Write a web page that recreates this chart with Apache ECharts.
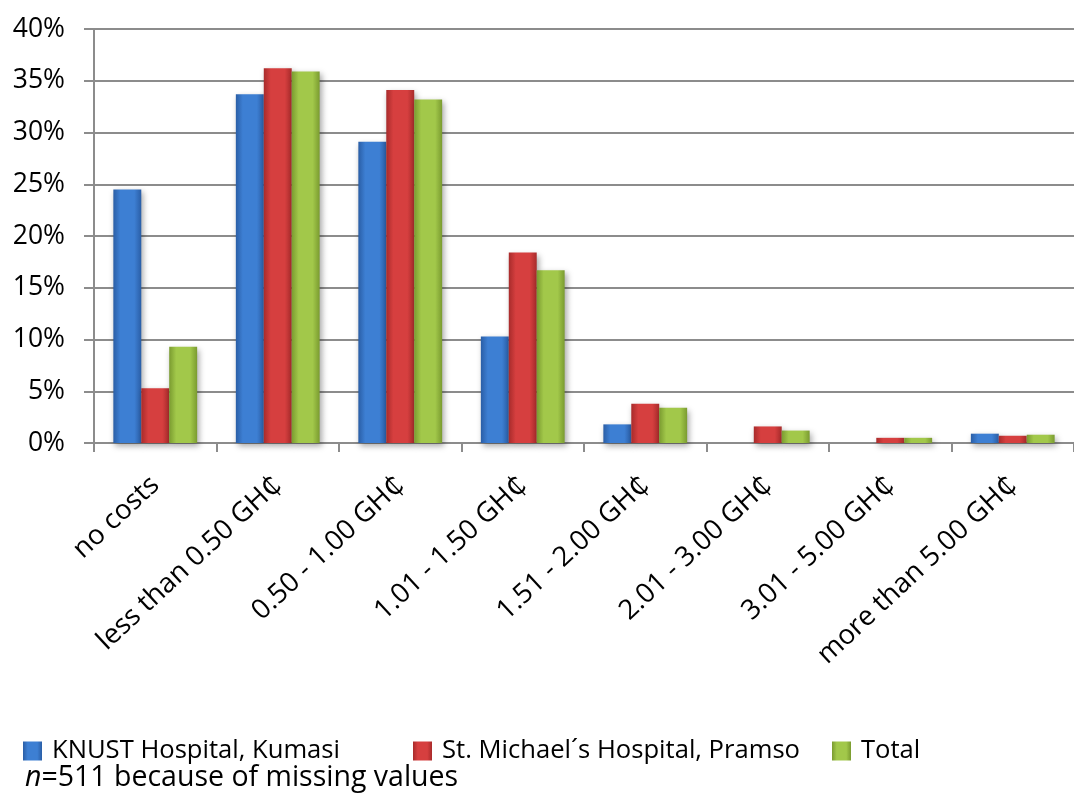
<!DOCTYPE html>
<html>
<head>
<meta charset="utf-8">
<script src="https://cdn.jsdelivr.net/npm/echarts@6/dist/echarts.min.js"></script>
<style>
  html, body { margin: 0; padding: 0; background: #ffffff; }
  #chart { width: 1074px; height: 799px; }
</style>
</head>
<body>
<div id="chart"></div>
<script>
// Cost categories (Ghana cedi)
const categories = [
  'no costs',
  'less than 0.50 GH₵',
  '0.50 - 1.00 GH₵',
  '1.01 - 1.50 GH₵',
  '1.51 - 2.00 GH₵',
  '2.01 - 3.00 GH₵',
  '3.01 - 5.00 GH₵',
  'more than 5.00 GH₵'
];

// Share of respondents per category, in percent
const knustValues   = [24.5, 33.7, 29.1, 10.3, 1.8, 0,   0,   0.9];
const michaelValues = [5.3,  36.2, 34.1, 18.4, 3.8, 1.6, 0.5, 0.7];
const totalValues   = [9.3,  35.9, 33.2, 16.7, 3.4, 1.2, 0.5, 0.8];

const seriesNames = ['KNUST Hospital, Kumasi', 'St. Michael´s Hospital, Pramso', 'Total'];
const yTicks = { min: 0, max: 40, interval: 5 };
const footnote = '=511 because of missing values';

const FONT = '"Open Sans", "DejaVu Sans", sans-serif';
const GRID_GRAY = '#8c8c8c';

// Beveled look: darker at both side edges, lighter in the middle
function bevel(edge, mid) {
  return new echarts.graphic.LinearGradient(0, 0, 1, 0, [
    { offset: 0, color: edge },
    { offset: 0.25, color: mid },
    { offset: 0.75, color: mid },
    { offset: 1, color: edge }
  ]);
}

const palettes = [
  { edge: '#2a5ea6', mid: '#3d7fd3' },
  { edge: '#a82b2b', mid: '#d63f3f' },
  { edge: '#7a9b30', mid: '#a2c84a' }
];

function barSeries(name, values, pal) {
  return {
    name: name,
    type: 'bar',
    data: values,
    barGap: '0%',
    barCategoryGap: '31.6%',
    itemStyle: {
      color: bevel(pal.edge, pal.mid),
      shadowColor: 'rgba(0,0,0,0.35)',
      shadowBlur: 6,
      shadowOffsetX: 2,
      shadowOffsetY: 3
    },
    emphasis: { disabled: true }
  };
}

function legendAt(name, left) {
  return {
    data: [name],
    left: left,
    top: 738,
    padding: 0,
    itemWidth: 19,
    itemHeight: 19,
    icon: 'rect',
    selectedMode: false,
    textStyle: {
      fontFamily: FONT,
      fontSize: 25.6,
      color: '#000',
      padding: [0, 0, 0, 5]
    }
  };
}

const chart = echarts.init(document.getElementById('chart'), null, { renderer: 'canvas' });

chart.setOption({
  animation: false,
  backgroundColor: '#ffffff',
  grid: { left: 94, right: -7, top: 29, bottom: 356, containLabel: false },
  legend: [
    legendAt(seriesNames[0], 23),
    legendAt(seriesNames[1], 413),
    legendAt(seriesNames[2], 832)
  ],
  xAxis: {
    type: 'category',
    data: categories,
    boundaryGap: true,
    axisLine: { show: true, lineStyle: { color: GRID_GRAY, width: 2 } },
    axisTick: { show: true, length: 9, lineStyle: { color: GRID_GRAY, width: 2 } },
    axisLabel: {
      rotate: 43,
      margin: 38,
      interval: 0,
      fontFamily: FONT,
      fontSize: 27.5,
      color: '#000'
    }
  },
  yAxis: {
    type: 'value',
    min: yTicks.min,
    max: yTicks.max,
    interval: yTicks.interval,
    axisLine: { show: true, lineStyle: { color: GRID_GRAY, width: 2 } },
    axisTick: { show: true, length: 10, lineStyle: { color: GRID_GRAY, width: 2 } },
    splitLine: { show: true, lineStyle: { color: GRID_GRAY, width: 2 } },
    axisLabel: {
      formatter: '{value}%',
      margin: 29,
      fontFamily: FONT,
      fontSize: 26.5,
      color: '#000'
    }
  },
  series: [
    barSeries(seriesNames[0], knustValues, palettes[0]),
    barSeries(seriesNames[1], michaelValues, palettes[1]),
    barSeries(seriesNames[2], totalValues, palettes[2])
  ],
  graphic: [
    {
      type: 'text',
      x: 25,
      y: 778,
      style: {
        text: '{i|n}' + footnote,
        fontFamily: FONT,
        fontSize: 28.5,
        fill: '#000',
        verticalAlign: 'middle',
        rich: {
          i: { fontStyle: 'italic', fontFamily: FONT, fontSize: 28.5, fill: '#000' }
        }
      }
    }
  ]
});
</script>
</body>
</html>
